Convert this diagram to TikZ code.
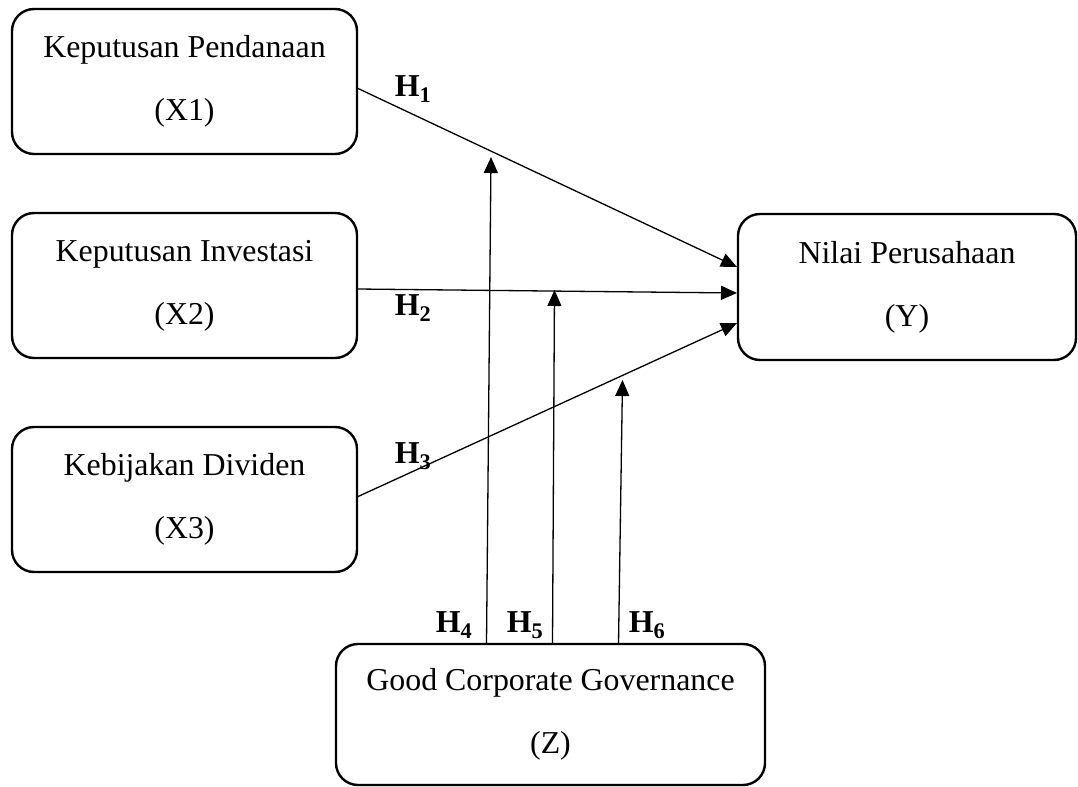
\documentclass[tikz,border=0pt]{standalone}
\usepackage{fontspec}
\setmainfont{Liberation Serif}
\usetikzlibrary{arrows.meta}
\begin{document}
\begin{tikzpicture}[x=1bp,y=-1bp,
  box/.style={draw, line width=2.4bp, rounded corners=22bp, align=center,
    font=\fontsize{32}{63}\selectfont, inner sep=0pt},
  link/.style={line width=1.3bp, -{Triangle[length=16bp,width=14bp]}},
  hlab/.style={font=\fontsize{32}{36}\selectfont\bfseries, inner sep=0pt}]
\useasboundingbox (0,0) rectangle (1078,787);
\node[box, minimum width=345bp, minimum height=145bp] (x1) at (184.5,81.5) {Keputusan Pendanaan\\(X1)};
\node[box, minimum width=345bp, minimum height=145bp] (x2) at (184.5,285.5) {Keputusan Investasi\\(X2)};
\node[box, minimum width=345bp, minimum height=145bp] (x3) at (184.5,499.5) {Kebijakan Dividen\\(X3)};
\node[box, minimum width=338bp, minimum height=146bp] (y) at (907,287) {Nilai Perusahaan\\(Y)};
\node[box, minimum width=429bp, minimum height=141bp] (z) at (550.5,714.5) {Good Corporate Governance\\(Z)};
% connector end points
\coordinate (s1) at (357,88);
\coordinate (e1) at (737,267);
\coordinate (s2) at (357,289);
\coordinate (e2) at (737,293);
\coordinate (s3) at (357,497);
\coordinate (e3) at (737,323);
\coordinate (b4) at (486.5,644);
\coordinate (t4) at (491,157);
\coordinate (b5) at (552.5,644);
\coordinate (t5) at (554.5,290);
\coordinate (b6) at (618.5,644);
\coordinate (t6) at (622.5,380);
\draw[link] (s1) -- (e1);
\draw[link] (s2) -- (e2);
\draw[link] (s3) -- (e3);
\draw[link] (b4) -- (t4);
\draw[link] (b5) -- (t5);
\draw[link] (b6) -- (t6);
\node[hlab] (h1) at (413,89) {H\textsubscript{1}};
\node[hlab] (h2) at (413,308) {H\textsubscript{2}};
\node[hlab] (h3) at (413,456) {H\textsubscript{3}};
\node[hlab] (h4) at (454,625) {H\textsubscript{4}};
\node[hlab] (h5) at (525,625) {H\textsubscript{5}};
\node[hlab] (h6) at (647,625) {H\textsubscript{6}};
\end{tikzpicture}
\end{document}
